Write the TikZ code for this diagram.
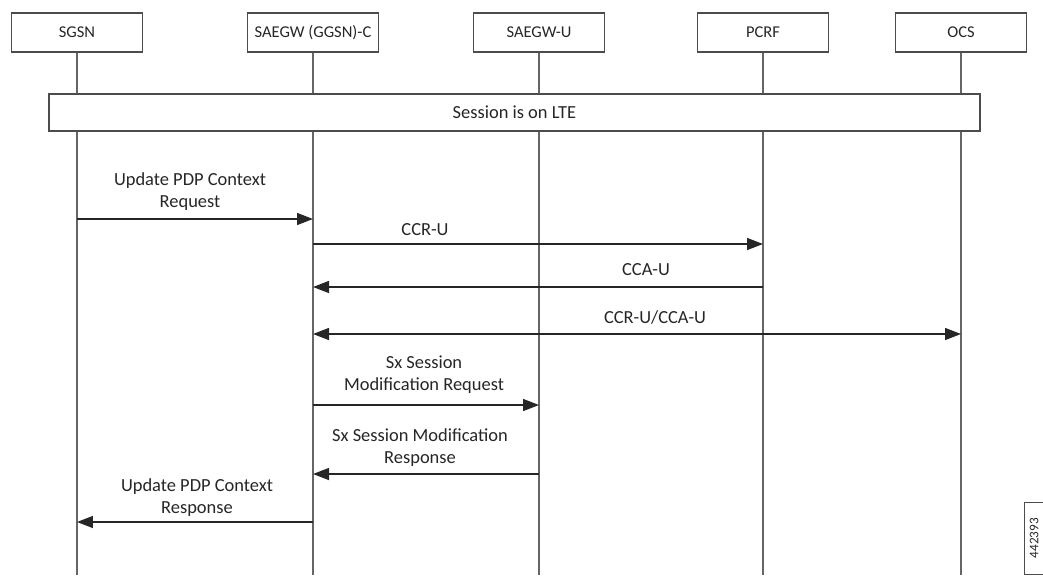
\documentclass[tikz,border=0pt]{standalone}
\usepackage{fontspec}
\setmainfont{Carlito}
\usetikzlibrary{arrows.meta}
\tikzset{
    every node/.style={font=\fontsize{10.5}{12.6}\selectfont, text=black!85}
}
\tikzset{
    head/.style={draw=black!70, line width=0.8pt, minimum width=2.62cm,
    	minimum height=0.78cm, inner sep=0pt, font=\fontsize{9.4}{11}\selectfont},
    life/.style={draw=black!60, line width=0.8pt},
    msg/.style={draw=black!85, line width=0.8pt,
    	-{Triangle[length=0.32cm, width=0.24cm]}},
    twoway/.style={msg, {Triangle[length=0.32cm, width=0.24cm]}-{Triangle[length=0.32cm, width=0.24cm]}},
    lbl/.style={align=center, inner sep=0pt}
}

\begin{document}
\begin{tikzpicture}[x=0.02cm, y=-0.02cm]
	\useasboundingbox (0,0) rectangle (1043,575);
	\node (sgsn) [head] at (77,32.5) {SGSN};
	\node (saegwc) [head] at (313,32.5) {SAEGW (GGSN)-C};
	\node (saegwu) [head] at (539,32.5) {SAEGW-U};
	\node (pcrf) [head] at (763,32.5) {PCRF};
	\node (ocs) [head] at (961,32.5) {OCS};
	
	\coordinate (sgsnE) at (77,575); \coordinate (saegwcE) at (313,575);
	\coordinate (saegwuE) at (539,575); \coordinate (pcrfE) at (763,575);
	\coordinate (ocsE) at (961,575);
	\draw[life] (sgsn) -- (sgsnE); \draw[life] (saegwc) -- (saegwcE);
	\draw[life] (saegwu) -- (saegwuE); \draw[life] (pcrf) -- (pcrfE);
	\draw[life] (ocs) -- (ocsE);
	
	\node (lte) [head, fill=white, minimum width=18.62cm, minimum height=0.74cm,
		font=\fontsize{10.5}{12.6}\selectfont] at (514.5,112.5) {Session is on LTE};
	
	% messages
	\coordinate (m1a) at (77,219); \coordinate (m1b) at (313,219);
	\coordinate (m2a) at (313,244); \coordinate (m2b) at (763,244);
	\coordinate (m3a) at (763,287); \coordinate (m3b) at (313,287);
	\coordinate (m4a) at (313,334); \coordinate (m4b) at (961,334);
	\coordinate (m5a) at (313,405); \coordinate (m5b) at (539,405);
	\coordinate (m6a) at (539,474); \coordinate (m6b) at (313,474);
	\coordinate (m7a) at (313,522); \coordinate (m7b) at (77,522);
	
	\draw[msg] (m1a) -- (m1b); \draw[msg] (m2a) -- (m2b);
	\draw[msg] (m3a) -- (m3b); \draw[twoway] (m4a) -- (m4b);
	\draw[msg] (m5a) -- (m5b); \draw[msg] (m6a) -- (m6b);
	\draw[msg] (m7a) -- (m7b);
	
	\node (t1) [lbl] at (190,191.5) {Update PDP Context\\Request};
	\node (t2) [lbl] at (425,230) {CCR-U};
	\node (t3) [lbl] at (646,270) {CCA-U};
	\node (t4) [lbl] at (655,317) {CCR-U/CCA-U};
	\node (t5) [lbl] at (424,374.5) {Sx Session\\Modification Request};
	\node (t6) [lbl] at (420,447.5) {Sx Session Modification\\Response};
	\node (t7) [lbl] at (197,497.5) {Update PDP Context\\Response};
	
	\node (fig) [draw=black!70, rotate=90, minimum width=1.44cm, minimum height=0.4cm,
		inner sep=1pt, font=\fontsize{7.5}{9}\selectfont] at (1034,538) {442393};
\end{tikzpicture}
\end{document}
